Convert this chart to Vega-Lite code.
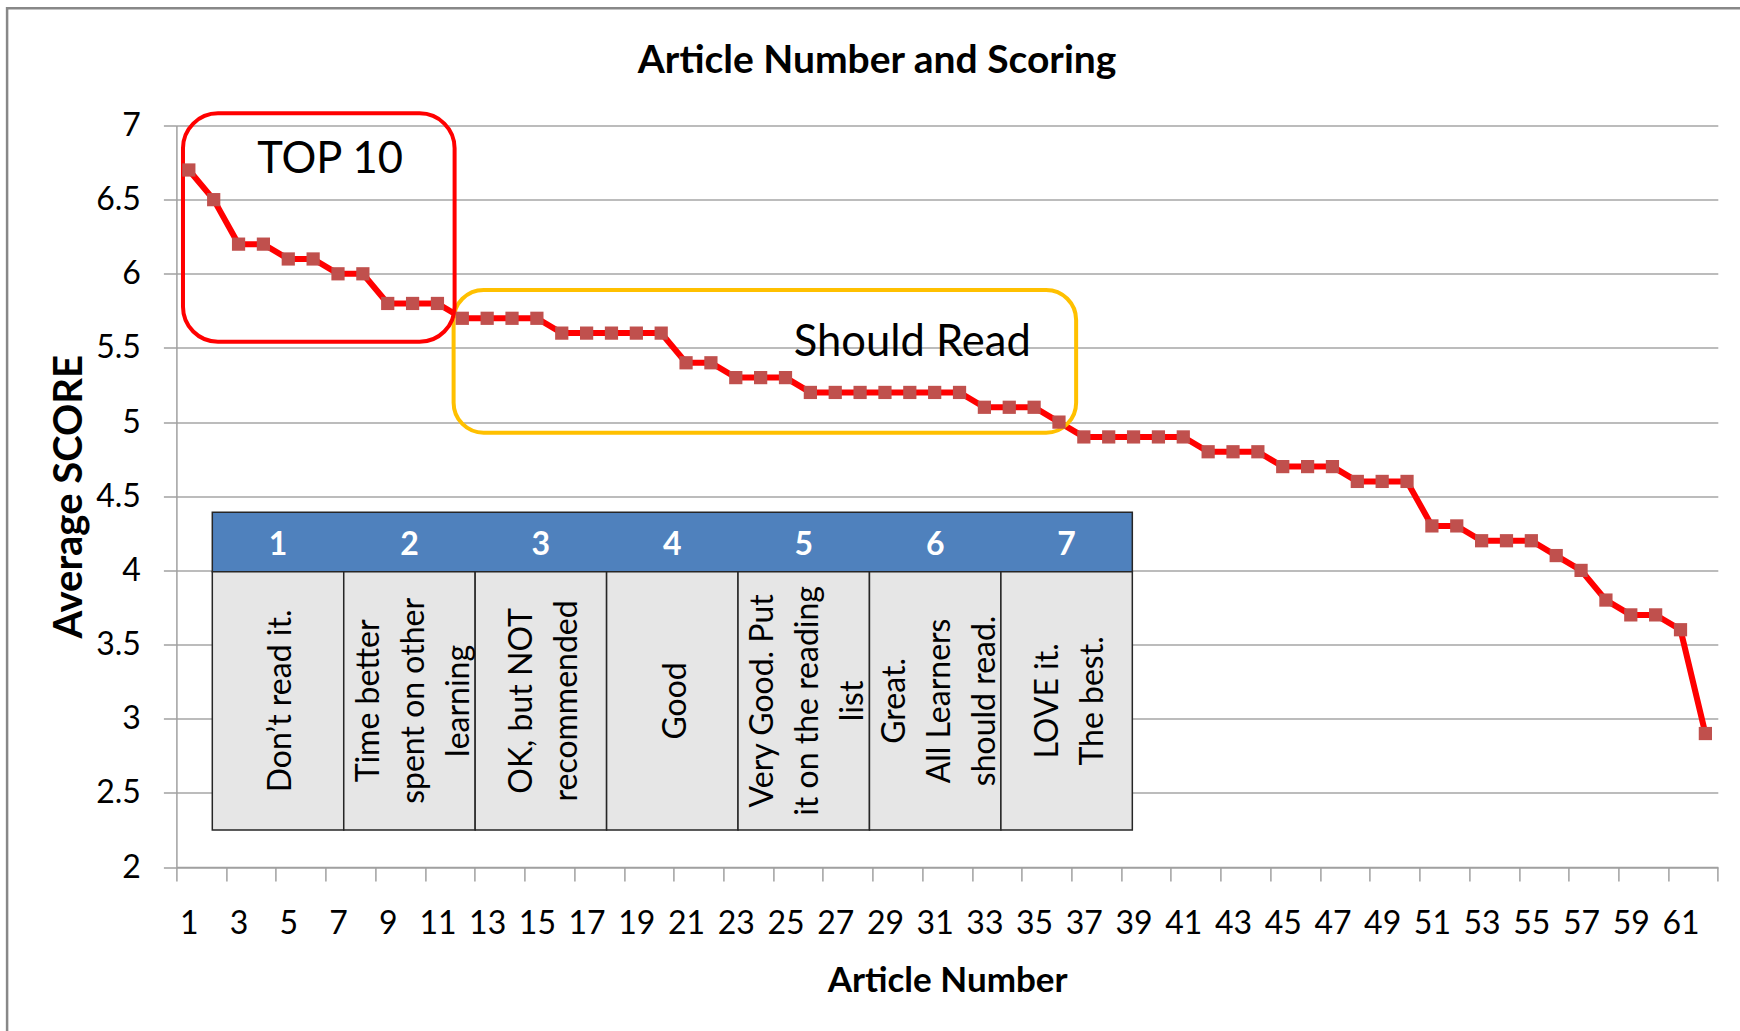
{
  "$schema": "https://vega.github.io/schema/vega-lite/v6.json",
  "width": 1541.4,
  "height": 741.5,
  "autosize": {"type": "none"},
  "padding": {"left": 176.4, "top": 125.5, "right": 22.2, "bottom": 164},
  "background": "white",
  "title": {"text": "Article Number and Scoring", "font": "Lato", "fontSize": 39, "fontWeight": "bold", "color": "black", "anchor": "middle", "frame": "group", "dx": -70, "dy": 105, "offset": 0, "baseline": "alphabetic"},
  "config": {"font": "Lato", "view": {"stroke": null}},
  "datasets": {
    "scores": [
      {"article": 1, "score": 6.7}, {"article": 2, "score": 6.5}, {"article": 3, "score": 6.2}, {"article": 4, "score": 6.2},
      {"article": 5, "score": 6.1}, {"article": 6, "score": 6.1}, {"article": 7, "score": 6.0}, {"article": 8, "score": 6.0},
      {"article": 9, "score": 5.8}, {"article": 10, "score": 5.8}, {"article": 11, "score": 5.8}, {"article": 12, "score": 5.7},
      {"article": 13, "score": 5.7}, {"article": 14, "score": 5.7}, {"article": 15, "score": 5.7}, {"article": 16, "score": 5.6},
      {"article": 17, "score": 5.6}, {"article": 18, "score": 5.6}, {"article": 19, "score": 5.6}, {"article": 20, "score": 5.6},
      {"article": 21, "score": 5.4}, {"article": 22, "score": 5.4}, {"article": 23, "score": 5.3}, {"article": 24, "score": 5.3},
      {"article": 25, "score": 5.3}, {"article": 26, "score": 5.2}, {"article": 27, "score": 5.2}, {"article": 28, "score": 5.2},
      {"article": 29, "score": 5.2}, {"article": 30, "score": 5.2}, {"article": 31, "score": 5.2}, {"article": 32, "score": 5.2},
      {"article": 33, "score": 5.1}, {"article": 34, "score": 5.1}, {"article": 35, "score": 5.1}, {"article": 36, "score": 5.0},
      {"article": 37, "score": 4.9}, {"article": 38, "score": 4.9}, {"article": 39, "score": 4.9}, {"article": 40, "score": 4.9},
      {"article": 41, "score": 4.9}, {"article": 42, "score": 4.8}, {"article": 43, "score": 4.8}, {"article": 44, "score": 4.8},
      {"article": 45, "score": 4.7}, {"article": 46, "score": 4.7}, {"article": 47, "score": 4.7}, {"article": 48, "score": 4.6},
      {"article": 49, "score": 4.6}, {"article": 50, "score": 4.6}, {"article": 51, "score": 4.3}, {"article": 52, "score": 4.3},
      {"article": 53, "score": 4.2}, {"article": 54, "score": 4.2}, {"article": 55, "score": 4.2}, {"article": 56, "score": 4.1},
      {"article": 57, "score": 4.0}, {"article": 58, "score": 3.8}, {"article": 59, "score": 3.7}, {"article": 60, "score": 3.7},
      {"article": 61, "score": 3.6}, {"article": 62, "score": 2.9}
    ],
    "cells": [
      {"k": "1", "x0": 1.944, "x1": 7.231, "xc": 4.587, "xt": 4.72, "yt": 3.991, "yb": 2.25, "yh": 4.17, "ym": 3.12, "lines": ["Don’t read it."]},
      {"k": "2", "x0": 7.231, "x1": 12.517, "xc": 9.874, "xt": 8.23, "yt": 3.991, "yb": 2.25, "yh": 4.17, "ym": 3.12, "lines": ["Time  better", "spent on other", "learning"]},
      {"k": "3", "x0": 12.517, "x1": 17.804, "xc": 15.16, "xt": 14.4, "yt": 3.991, "yb": 2.25, "yh": 4.17, "ym": 3.12, "lines": ["OK, but NOT", "recommended"]},
      {"k": "4", "x0": 17.804, "x1": 23.09, "xc": 20.447, "xt": 20.58, "yt": 3.991, "yb": 2.25, "yh": 4.17, "ym": 3.12, "lines": ["Good"]},
      {"k": "5", "x0": 23.09, "x1": 28.377, "xc": 25.734, "xt": 24.09, "yt": 3.991, "yb": 2.25, "yh": 4.17, "ym": 3.12, "lines": ["Very Good.  Put", "it on the reading", "list"]},
      {"k": "6", "x0": 28.377, "x1": 33.664, "xc": 31.02, "xt": 29.4, "yt": 3.991, "yb": 2.25, "yh": 4.17, "ym": 3.12, "lines": ["Great.", "All Learners", "should read."]},
      {"k": "7", "x0": 33.664, "x1": 38.95, "xc": 36.307, "xt": 35.55, "yt": 3.991, "yb": 2.25, "yh": 4.17, "ym": 3.12, "lines": ["LOVE it.", "The best."]}
    ]
  },
  "layer": [
    {
      "data": {"values": [{"x0": -6.31, "x1": 64.5, "y0": 7.79, "y1": 0.88}]},
      "mark": {"type": "rect", "fillOpacity": 0, "fill": "white", "stroke": "#888888", "strokeWidth": 2.5, "clip": false},
      "encoding": {
        "x": {"field": "x0", "type": "quantitative"}, "x2": {"field": "x1"},
        "y": {"field": "y0", "type": "quantitative"}, "y2": {"field": "y1"}
      }
    },
    {
      "data": {"name": "scores"},
      "mark": {"type": "line", "color": "#FF0000", "strokeWidth": 6},
      "encoding": {
        "x": {
          "field": "article", "type": "quantitative",
          "scale": {"domain": [0.5, 62.5], "nice": false, "zero": false},
          "axis": {
            "title": "Article Number", "titleFontSize": 35, "titleFontWeight": "bold", "titleColor": "black", "titlePadding": 24,
            "values": [0.5,1.5,2.5,3.5,4.5,5.5,6.5,7.5,8.5,9.5,10.5,11.5,12.5,13.5,14.5,15.5,16.5,17.5,18.5,19.5,20.5,21.5,22.5,23.5,24.5,25.5,26.5,27.5,28.5,29.5,30.5,31.5,32.5,33.5,34.5,35.5,36.5,37.5,38.5,39.5,40.5,41.5,42.5,43.5,44.5,45.5,46.5,47.5,48.5,49.5,50.5,51.5,52.5,53.5,54.5,55.5,56.5,57.5,58.5,59.5,60.5,61.5,62.5],
            "labelExpr": "(datum.value + 0.5) % 2 == 1 && datum.value < 62 ? '' + (datum.value + 0.5) : ''",
            "labelOffset": 12.43, "labelFlush": false, "labelOverlap": false, "labelBound": false,
            "labelFontSize": 32, "labelColor": "black", "labelPadding": 27,
            "grid": false, "tickSize": 14, "tickColor": "#A0A0A0", "tickWidth": 1.5,
            "domainColor": "#A0A0A0", "domainWidth": 1.5
          }
        },
        "y": {
          "field": "score", "type": "quantitative",
          "scale": {"domain": [2, 7], "nice": false, "zero": false},
          "axis": {
            "title": "Average SCORE", "titleFontSize": 40, "titleFontWeight": "bold", "titleColor": "black", "titlePadding": 6,
            "values": [2, 2.5, 3, 3.5, 4, 4.5, 5, 5.5, 6, 6.5, 7],
            "labelExpr": "'' + datum.value",
            "labelFontSize": 32, "labelColor": "black", "labelPadding": 23,
            "tickSize": 13, "tickColor": "#A0A0A0", "tickWidth": 1.5,
            "domainColor": "#A0A0A0", "domainWidth": 1.5,
            "grid": true, "gridColor": "#A6A6A6", "gridWidth": 1.5
          }
        }
      }
    },
    {
      "data": {"values": [{"x0": 11.65, "x1": 36.69, "y0": 5.891, "y1": 4.929}]},
      "mark": {"type": "rect", "fillOpacity": 0, "fill": "white", "stroke": "#FFC000", "strokeWidth": 4, "cornerRadius": 30, "clip": false},
      "encoding": {
        "x": {"field": "x0", "type": "quantitative"}, "x2": {"field": "x1"},
        "y": {"field": "y0", "type": "quantitative"}, "y2": {"field": "y1"}
      }
    },
    {
      "data": {"values": [{"x0": 0.765, "x1": 11.69, "y0": 7.082, "y1": 5.542}]},
      "mark": {"type": "rect", "fillOpacity": 0, "fill": "white", "stroke": "#FF0000", "strokeWidth": 4, "cornerRadius": 35, "clip": false},
      "encoding": {
        "x": {"field": "x0", "type": "quantitative"}, "x2": {"field": "x1"},
        "y": {"field": "y0", "type": "quantitative"}, "y2": {"field": "y1"}
      }
    },
    {
      "data": {"values": [{"x0": 1.944, "x1": 38.95, "y0": 4.392, "y1": 3.991}]},
      "mark": {"type": "rect", "fill": "#4F81BD", "stroke": "#262626", "strokeWidth": 1.5},
      "encoding": {
        "x": {"field": "x0", "type": "quantitative"}, "x2": {"field": "x1"},
        "y": {"field": "y0", "type": "quantitative"}, "y2": {"field": "y1"}
      }
    },
    {
      "data": {"name": "cells"},
      "mark": {"type": "rect", "fill": "#E6E6E6", "stroke": "#262626", "strokeWidth": 1.5},
      "encoding": {
        "x": {"field": "x0", "type": "quantitative"}, "x2": {"field": "x1"},
        "y": {"field": "yt", "type": "quantitative"}, "y2": {"field": "yb"}
      }
    },
    {
      "data": {"name": "cells"},
      "mark": {"type": "text", "color": "white", "fontSize": 32, "fontWeight": "bold", "align": "center", "baseline": "middle"},
      "encoding": {
        "x": {"field": "xc", "type": "quantitative"},
        "y": {"field": "yh", "type": "quantitative"},
        "text": {"field": "k"}
      }
    },
    {
      "data": {"name": "cells"},
      "mark": {"type": "text", "color": "black", "fontSize": 32, "lineHeight": 45, "angle": 270, "align": "center", "baseline": "middle"},
      "encoding": {
        "x": {"field": "xt", "type": "quantitative"},
        "y": {"field": "ym", "type": "quantitative"},
        "text": {"field": "lines"}
      }
    },
    {
      "data": {"name": "scores"},
      "mark": {"type": "point", "shape": "square", "filled": true, "size": 175, "color": "#C0504D", "opacity": 1},
      "encoding": {
        "x": {"field": "article", "type": "quantitative"},
        "y": {"field": "score", "type": "quantitative"}
      }
    },
    {
      "data": {"values": [{"x": 6.68, "y": 6.678, "label": "TOP 10"}, {"x": 30.1, "y": 5.446, "label": "Should Read"}]},
      "mark": {"type": "text", "color": "black", "fontSize": 43.5, "align": "center", "baseline": "alphabetic"},
      "encoding": {
        "x": {"field": "x", "type": "quantitative"},
        "y": {"field": "y", "type": "quantitative"},
        "text": {"field": "label"}
      }
    }
  ]
}
